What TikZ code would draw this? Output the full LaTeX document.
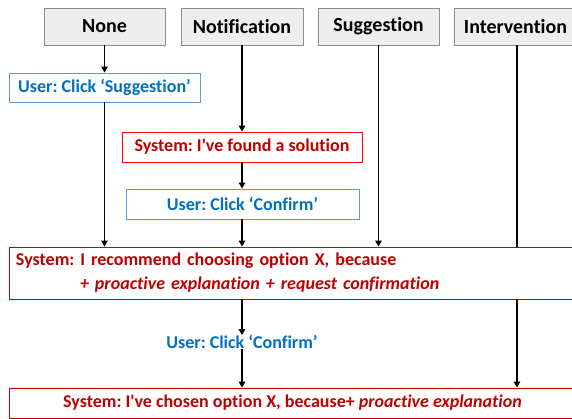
\documentclass[tikz,border=0pt]{standalone}
\usepackage{fontspec}
\setmainfont{Carlito}[Ligatures={TeXOff,NoCommon}]
\frenchspacing
\usetikzlibrary{arrows.meta}
\definecolor{sysred}{HTML}{C00000}
\definecolor{usrblue}{HTML}{0070C0}
\definecolor{boxblue}{HTML}{5B9BD5}
\definecolor{boxred}{HTML}{FF0000}
\definecolor{hdrfill}{HTML}{EEEEEE}
\definecolor{hdrline}{HTML}{8C8C8C}
\tikzset{
  hdr/.style={draw=hdrline, line width=0.9pt, fill=hdrfill, minimum width=121pt, minimum height=37pt, inner sep=0pt, font=\fontsize{20}{24}\selectfont\bfseries},
  userbox/.style={draw=boxblue, line width=0.9pt, fill=white, minimum height=29pt, inner sep=0pt, text=usrblue, font=\fontsize{18}{22}\selectfont\bfseries},
  sysbox/.style={draw=boxred, line width=0.9pt, fill=white, minimum height=30pt, inner sep=0pt, text=sysred, font=\fontsize{18}{22}\selectfont\bfseries},
  widebox/.style={draw=sysred, line width=0.9pt, fill=white, minimum width=567pt, inner sep=0pt, text=sysred, font=\fontsize{18}{22}\selectfont\bfseries},
  usertext/.style={inner sep=0pt, text=usrblue, font=\fontsize{18}{22}\selectfont\bfseries},
  flow/.style={line width=1.6pt, -{Triangle[length=6pt,width=6.5pt]}},
  lane/.style={line width=1.6pt}
}
\begin{document}
\begin{tikzpicture}[x=1pt,y=-1pt]
\useasboundingbox (0,0) rectangle (572,419);
\fill[white] (0,0) rectangle (572,419);
% headers
\node[hdr] (none) at (104.5,26.5) {None};
\node[hdr, minimum width=122pt] (notif) at (242,26.5) {Notification};
\node[hdr] (sugg) at (378.5,26.5) {Suggestion};
\node[hdr, minimum width=122pt] (interv) at (515.5,26.5) {Intervention};
% boxes
\node[userbox, minimum width=191pt] (usug) at (104.5,87.5) {User: Click ‘Suggestion’};
\node[sysbox, minimum width=240pt] (found) at (242,147) {System: I've found a solution};
\node[userbox, minimum width=233pt, minimum height=30pt] (conf) at (242.5,204) {User: Click ‘Confirm’};
\node[widebox, minimum height=52pt, text width=553pt, align=left, inner xsep=7pt] (rec) at (292.5,273)
  {System: I recommend choosing option X, because\\[2pt]
   \hspace*{64pt}\itshape + proactive explanation + request confirmation};
\node[usertext] (conf2) at (242,342) {User: Click ‘Confirm’};
\node[widebox, minimum height=30pt] (final) at (292.5,403) {System: I've chosen option X, because+ \textit{proactive explanation}};
% None lane
\draw[flow] (none.south) -- (usug.north);
\draw[flow] (usug.south) -- (usug.south |- rec.north);
% Notification lane
\draw[flow] (notif.south) -- (found.north);
\draw[flow] (found.south) -- (found.south |- conf.north);
\draw[flow] (conf.south -| found.south) -- (found.south |- rec.north);
\draw[flow] (found.south |- rec.south) -- (conf2.north -| found.south);
\draw[flow] (conf2.south -| found.south) -- (found.south |- final.north);
% Suggestion lane
\draw[flow] (sugg.south) -- (sugg.south |- rec.north);
% Intervention lane
\draw[lane] ([xshift=1.5pt]interv.south) -- ([xshift=1.5pt]interv.south |- rec.north);
\draw[flow] ([xshift=1.5pt]interv.south |- rec.south) -- ([xshift=1.5pt]interv.south |- final.north);
\end{tikzpicture}
\end{document}
